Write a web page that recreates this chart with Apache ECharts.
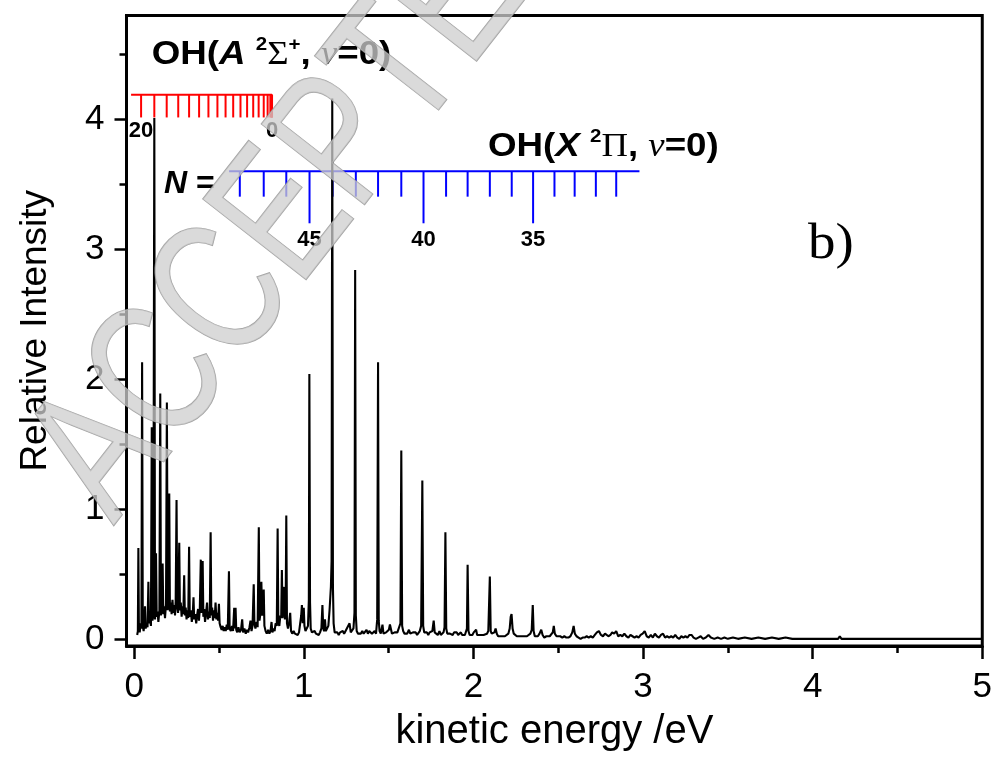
<!DOCTYPE html>
<html><head><meta charset="utf-8">
<script src="https://cdn.jsdelivr.net/npm/echarts@6/dist/echarts.min.js"></script>
<style>html,body{margin:0;padding:0;background:#fff}#c{width:995px;height:757px}</style>
</head><body><div id="c"></div>
<script>
// ---- data ----
const energy = [
0.018,0.022,0.025,0.028,0.033,0.038,0.043,0.047,0.051,0.056,
0.060,0.064,0.068,0.074,0.079,0.084,0.088,0.094,0.099,0.104,
0.108,0.113,0.119,0.123,0.129,0.133,0.138,0.143,0.149,0.154,
0.158,0.163,0.168,0.172,0.177,0.182,0.188,0.193,0.198,0.202,
0.207,0.211,0.216,0.221,0.226,0.231,0.236,0.241,0.245,0.250,
0.254,0.259,0.266,0.270,0.275,0.280,0.285,0.290,0.295,0.299,
0.304,0.309,0.315,0.319,0.324,0.328,0.334,0.340,0.346,0.350,
0.354,0.360,0.366,0.371,0.377,0.382,0.387,0.393,0.397,0.404,
0.408,0.413,0.418,0.424,0.430,0.435,0.440,0.446,0.451,0.455,
0.460,0.465,0.470,0.475,0.480,0.485,0.490,0.495,0.500,0.504,
0.510,0.516,0.522,0.528,0.534,0.540,0.546,0.552,0.559,0.563,
0.570,0.577,0.583,0.590,0.594,0.598,0.602,0.608,0.615,0.622,
0.630,0.637,0.642,0.650,0.658,0.665,0.672,0.680,0.686,0.692,
0.698,0.705,0.709,0.715,0.722,0.728,0.735,0.739,0.745,0.750,
0.755,0.760,0.764,0.768,0.775,0.782,0.790,0.797,0.804,0.810,
0.815,0.822,0.828,0.834,0.841,0.846,0.850,0.856,0.862,0.867,
0.871,0.875,0.880,0.885,0.889,0.893,0.897,0.901,0.907,0.913,
0.920,0.925,0.932,0.940,0.948,0.956,0.964,0.972,0.980,0.985,
0.989,0.994,1.000,1.004,1.010,1.018,1.025,1.030,1.033,1.037,
1.041,1.048,1.056,1.064,1.072,1.080,1.088,1.096,1.104,1.110,
1.115,1.120,1.125,1.130,1.137,1.145,1.152,1.160,1.164,1.168,
1.172,1.176,1.182,1.190,1.198,1.206,1.214,1.222,1.230,1.238,
1.246,1.254,1.262,1.270,1.277,1.285,1.293,1.299,1.303,1.307,
1.312,1.320,1.328,1.336,1.345,1.353,1.362,1.370,1.378,1.386,
1.394,1.402,1.410,1.418,1.426,1.433,1.438,1.442,1.447,1.454,
1.464,1.470,1.478,1.486,1.494,1.502,1.508,1.514,1.520,1.528,
1.536,1.544,1.552,1.560,1.570,1.575,1.580,1.586,1.594,1.602,
1.610,1.620,1.628,1.636,1.644,1.652,1.660,1.668,1.676,1.684,
1.692,1.699,1.704,1.710,1.718,1.726,1.734,1.742,1.750,1.758,
1.766,1.772,1.780,1.790,1.800,1.808,1.816,1.824,1.830,1.835,
1.840,1.846,1.854,1.862,1.870,1.878,1.886,1.894,1.902,1.910,
1.918,1.926,1.934,1.942,1.950,1.957,1.962,1.966,1.971,1.978,
1.986,1.994,2.002,2.010,2.016,2.022,2.030,2.040,2.050,2.060,
2.070,2.080,2.088,2.093,2.097,2.102,2.108,2.116,2.124,2.131,
2.138,2.146,2.156,2.166,2.176,2.186,2.196,2.206,2.214,2.220,
2.225,2.231,2.238,2.246,2.256,2.266,2.276,2.286,2.296,2.306,
2.316,2.326,2.336,2.344,2.350,2.355,2.362,2.370,2.380,2.390,
2.400,2.408,2.418,2.430,2.440,2.450,2.460,2.468,2.474,2.480,
2.490,2.500,2.512,2.524,2.536,2.548,2.560,2.572,2.583,2.591,
2.598,2.608,2.620,2.632,2.644,2.656,2.668,2.680,2.692,2.704,
2.716,2.728,2.740,2.752,2.764,2.776,2.786,2.796,2.808,2.818,
2.830,2.842,2.854,2.866,2.878,2.890,2.902,2.914,2.926,2.938,
2.950,2.962,2.974,2.986,2.998,3.010,3.022,3.034,3.046,3.058,
3.070,3.082,3.094,3.106,3.118,3.130,3.142,3.154,3.166,3.178,
3.190,3.202,3.214,3.226,3.238,3.250,3.262,3.274,3.286,3.298,
3.312,3.326,3.340,3.354,3.370,3.386,3.400,3.420,3.440,3.460,
3.480,3.500,3.530,3.560,3.600,3.640,3.680,3.720,3.760,3.800,
3.840,3.880,3.950,4.050,4.150,4.160,4.170,4.300,4.500,4.700,
5.000];
const intensity = [
0.03,0.06,0.70,0.10,0.05,0.12,0.08,2.13,0.10,0.06,
0.12,0.25,0.08,0.12,0.09,0.44,0.12,0.15,0.10,1.63,
0.14,0.18,4.01,0.15,0.66,0.17,0.21,0.13,0.22,1.89,
0.18,0.24,0.58,0.19,0.25,0.16,0.27,1.82,0.22,0.30,
1.12,0.21,0.28,0.19,0.30,0.20,0.26,0.18,0.29,1.07,
0.24,0.20,0.74,0.22,0.28,0.17,0.25,0.19,0.49,0.18,
0.24,0.15,0.22,0.16,0.71,0.17,0.22,0.13,0.20,0.32,
0.15,0.19,0.12,0.18,0.23,0.14,0.22,0.61,0.20,0.60,
0.17,0.23,0.13,0.20,0.28,0.15,0.21,0.16,0.82,0.18,
0.24,0.14,0.22,0.16,0.28,0.15,0.20,0.14,0.27,0.12,
0.09,0.07,0.10,0.06,0.09,0.06,0.11,0.07,0.52,0.08,
0.06,0.10,0.06,0.24,0.08,0.24,0.07,0.05,0.09,0.05,
0.07,0.15,0.05,0.08,0.04,0.07,0.05,0.09,0.14,0.06,
0.10,0.42,0.12,0.08,0.13,0.09,0.86,0.14,0.20,0.44,
0.18,0.22,0.38,0.10,0.06,0.04,0.07,0.04,0.06,0.13,
0.05,0.08,0.06,0.12,0.10,0.85,0.13,0.10,0.18,0.16,
0.53,0.16,0.22,0.40,0.15,0.18,0.95,0.12,0.08,0.12,
0.20,0.06,0.04,0.06,0.04,0.05,0.03,0.05,0.06,0.18,
0.26,0.12,0.24,0.10,0.06,0.05,0.10,0.30,2.04,0.28,
0.08,0.05,0.04,0.06,0.04,0.05,0.03,0.05,0.08,0.26,
0.08,0.06,0.15,0.06,0.05,0.10,0.22,0.40,0.60,4.16,
0.40,0.12,0.05,0.04,0.05,0.03,0.05,0.04,0.06,0.04,
0.05,0.08,0.07,0.12,0.05,0.06,0.08,0.20,2.84,0.18,
0.06,0.04,0.05,0.04,0.06,0.04,0.05,0.07,0.04,0.06,
0.05,0.04,0.05,0.06,0.04,0.15,2.13,0.14,0.06,0.04,
0.11,0.04,0.03,0.05,0.04,0.07,0.11,0.10,0.04,0.03,
0.05,0.04,0.05,0.06,0.12,1.45,0.10,0.06,0.04,0.05,
0.04,0.07,0.04,0.03,0.05,0.04,0.05,0.03,0.04,0.06,
0.10,1.22,0.10,0.05,0.04,0.05,0.03,0.05,0.04,0.06,
0.14,0.05,0.04,0.03,0.06,0.03,0.04,0.05,0.09,0.82,
0.08,0.04,0.03,0.04,0.05,0.03,0.05,0.04,0.05,0.03,
0.04,0.05,0.03,0.04,0.03,0.04,0.08,0.57,0.06,0.03,
0.04,0.03,0.05,0.06,0.07,0.03,0.02,0.03,0.04,0.03,
0.02,0.04,0.06,0.07,0.48,0.06,0.04,0.03,0.05,0.08,
0.04,0.02,0.03,0.02,0.03,0.02,0.03,0.04,0.08,0.17,
0.19,0.08,0.04,0.03,0.02,0.03,0.02,0.03,0.02,0.03,
0.02,0.03,0.04,0.07,0.26,0.06,0.02,0.03,0.02,0.04,
0.07,0.03,0.01,0.02,0.01,0.02,0.02,0.05,0.10,0.04,
0.02,0.01,0.02,0.01,0.02,0.01,0.01,0.02,0.05,0.10,
0.04,0.02,0.01,0.00,0.01,0.01,0.02,0.01,0.02,0.01,
0.03,0.05,0.06,0.03,0.02,0.04,0.04,0.02,0.03,0.05,
0.04,0.06,0.02,0.03,0.02,0.04,0.02,0.01,0.03,0.02,
0.01,0.02,0.01,0.03,0.04,0.06,0.02,0.01,0.03,0.01,
0.04,0.02,0.01,0.03,0.04,0.01,0.02,0.01,0.02,0.01,
0.03,0.01,0.00,0.02,0.01,0.02,0.01,0.03,0.03,0.01,
0.00,0.01,0.02,0.00,0.01,0.03,0.01,0.00,0.01,0.00,
0.01,0.00,0.01,0.00,0.01,0.00,0.01,0.00,0.01,0.00,
0.01,0.00,0.00,0.00,0.00,0.02,0.00,0.00,0.00,0.00,
0.00];

// rotational comb of OH(A 2Σ+, v=0): N = 20 ... 0
const redCombN = [20,19,18,17,16,15,14,13,12,11,10,9,8,7,6,5,4,3,2,1,0];
const redCombE = [0.041,0.119,0.192,0.260,0.324,0.383,0.438,0.491,0.539,0.584,0.627,0.666,0.702,0.734,0.764,0.787,0.803,0.808,0.811,0.8125,0.813];
const redLabelN = [20, 0];
// rotational comb of OH(X 2Π, v=0): N = 48 ... 31
const blueCombN = [48,47,46,45,44,43,42,41,40,39,38,37,36,35,34,33,32,31];
const blueCombE = [0.623,0.764,0.897,1.034,1.170,1.307,1.438,1.575,1.706,1.839,1.966,2.097,2.226,2.352,2.478,2.597,2.722,2.842];
const blueLabelN = [45, 40, 35];

const xMajorTicks = [0,1,2,3,4,5];
const xMinorTicks = [0.5,1.5,2.5,3.5,4.5];
const yMajorTicks = [0,1,2,3,4];
const yMinorTicks = [0.5,1.5,2.5,3.5,4.5];

// ---- layout / style ----
const SANS = '"Liberation Sans", Arial, sans-serif';
const SERIF = '"Liberation Serif", "Times New Roman", serif';
const X_MIN = -0.045, X_MAX = 5.0, Y_MIN = -0.055, Y_MAX = 4.8;
const RED = { level: 4.19, bottom: 4.015, label: 3.91, start: -0.018, end: 0.813 };
const BLUE = { level: 3.60, shortBottom: 3.405, longBottom: 3.20, label: 3.07, start: 0.560, end: 2.979 };

const chart = echarts.init(document.getElementById('c'), null, { renderer: 'canvas' });

function combRender(cfg, color, labelList, hasLong) {
  return function (params, api) {
    const e = api.value(0), n = api.value(1);
    const isLabel = labelList.indexOf(n) >= 0;
    const bottom = hasLong ? (isLabel ? cfg.longBottom : cfg.shortBottom) : cfg.bottom;
    const p1 = api.coord([e, cfg.level]);
    const p2 = api.coord([e, bottom]);
    const children = [{
      type: 'line', shape: { x1: p1[0], y1: p1[1], x2: p2[0], y2: p2[1] },
      style: { stroke: color, lineWidth: 2 }
    }];
    if (isLabel) {
      const p3 = api.coord([e, cfg.label]);
      children.push({
        type: 'text', x: p3[0], y: p3[1],
        style: { text: String(n), align: 'center', verticalAlign: 'middle',
                 font: 'bold 22px ' + SANS, fill: '#000' }
      });
    }
    return { type: 'group', children };
  };
}

const axisLineStyle = { color: '#000', width: 3 };
const tickLineStyle = { color: '#000', width: 2.5 };

const option = {
  animation: false,
  backgroundColor: '#fff',
  grid: { left: 126.5, right: 9, top: 15.5, bottom: 110.3, show: true,
          borderColor: '#000', borderWidth: 3, containLabel: false },
  xAxis: [{
    type: 'value', min: X_MIN, max: X_MAX, position: 'bottom',
    axisLine: { show: true, onZero: false, lineStyle: axisLineStyle },
    axisTick: { show: true, inside: false, length: 13, lineStyle: tickLineStyle, customValues: xMajorTicks },
    axisLabel: { show: true, customValues: xMajorTicks, margin: 24, color: '#000',
                 fontSize: 35, fontFamily: SANS, formatter: v => String(v) },
    splitLine: { show: false },
    name: 'kinetic energy /eV', nameLocation: 'middle', nameGap: 66,
    nameTextStyle: { color: '#000', fontSize: 40, fontFamily: SANS }
  }, {
    type: 'value', min: X_MIN, max: X_MAX, position: 'bottom',
    axisLine: { show: false, onZero: false },
    axisTick: { show: true, inside: false, length: 7, lineStyle: tickLineStyle, customValues: xMinorTicks },
    axisLabel: { show: false }, splitLine: { show: false }
  }],
  yAxis: [{
    type: 'value', min: Y_MIN, max: Y_MAX, position: 'left',
    axisLine: { show: true, onZero: false, lineStyle: axisLineStyle },
    axisTick: { show: true, inside: false, length: 12, lineStyle: tickLineStyle, customValues: yMajorTicks },
    axisLabel: { show: true, customValues: yMajorTicks, margin: 22, color: '#000',
                 fontSize: 35, fontFamily: SANS, formatter: v => String(v) },
    splitLine: { show: false },
    name: 'Relative Intensity', nameLocation: 'middle', nameGap: 72, nameRotate: 90,
    nameTextStyle: { color: '#000', fontSize: 37, fontFamily: SANS }
  }, {
    type: 'value', min: Y_MIN, max: Y_MAX, position: 'left',
    axisLine: { show: false, onZero: false },
    axisTick: { show: true, inside: false, length: 7, lineStyle: tickLineStyle, customValues: yMinorTicks },
    axisLabel: { show: false }, splitLine: { show: false }
  }],
  series: [
    {
      name: 'OH(A) comb line', type: 'line', xAxisIndex: 0, yAxisIndex: 0,
      data: [[RED.start, RED.level], [RED.end, RED.level]],
      showSymbol: false, symbol: 'none', lineStyle: { color: '#ff0000', width: 2 }, z: 2, silent: true
    },
    {
      name: 'OH(A) N', type: 'custom', xAxisIndex: 0, yAxisIndex: 0,
      data: redCombE.map((e, i) => [e, redCombN[i]]),
      renderItem: combRender(RED, '#ff0000', redLabelN, false), z: 2, silent: true
    },
    {
      name: 'OH(X) comb line', type: 'line', xAxisIndex: 0, yAxisIndex: 0,
      data: [[BLUE.start, BLUE.level], [BLUE.end, BLUE.level]],
      showSymbol: false, symbol: 'none', lineStyle: { color: '#0000ff', width: 2 }, z: 2, silent: true
    },
    {
      name: 'OH(X) N', type: 'custom', xAxisIndex: 0, yAxisIndex: 0,
      data: blueCombE.map((e, i) => [e, blueCombN[i]]),
      renderItem: combRender(BLUE, '#0000ff', blueLabelN, true), z: 2, silent: true
    },
    {
      name: 'spectrum', type: 'line', xAxisIndex: 0, yAxisIndex: 0,
      data: energy.map((e, i) => [e, intensity[i]]),
      showSymbol: false, symbol: 'none', sampling: null,
      lineStyle: { color: '#000', width: 2.1 }, z: 3, silent: true
    }
  ],
  graphic: [
    {
      type: 'text', x: 151.7, y: 55, scaleX: 1.08, z: 50,
      style: {
        text: '{b|OH(}{bi|A}{b| }{s|2}{g|Σ}{s|+}{b|, }{v|v}{b|=0)}',
        verticalAlign: 'middle', align: 'left', fill: '#000',
        rich: {
          b: { fill: '#000', font: 'bold 34px ' + SANS, lineHeight: 40 },
          bi: { fill: '#000', font: 'italic bold 34px ' + SANS, lineHeight: 40 },
          s: { fill: '#000', font: 'bold 19px ' + SANS, lineHeight: 30, verticalAlign: 'top' },
          g: { fill: '#000', font: '34px ' + SERIF, lineHeight: 40 },
          v: { fill: '#000', font: 'italic 34px ' + SERIF, lineHeight: 40 }
        }
      }
    },
    {
      type: 'text', x: 488, y: 147, scaleX: 1.08, z: 50,
      style: {
        text: '{b|OH(}{bi|X}{b| }{s|2}{g|Π}{b|, }{v|v}{b|=0)}',
        verticalAlign: 'middle', align: 'left', fill: '#000',
        rich: {
          b: { fill: '#000', font: 'bold 34px ' + SANS, lineHeight: 40 },
          bi: { fill: '#000', font: 'italic bold 34px ' + SANS, lineHeight: 40 },
          s: { fill: '#000', font: 'bold 19px ' + SANS, lineHeight: 30, verticalAlign: 'top' },
          g: { fill: '#000', font: '34px ' + SERIF, lineHeight: 40 },
          v: { fill: '#000', font: 'italic 34px ' + SERIF, lineHeight: 40 }
        }
      }
    },
    {
      type: 'text', x: 164, y: 184, z: 50,
      style: {
        text: '{n|N}{e| =}', verticalAlign: 'middle', align: 'left', fill: '#000',
        rich: {
          n: { fill: '#000', font: 'italic bold 32px ' + SANS },
          e: { fill: '#000', font: 'bold 32px ' + SANS }
        }
      }
    },
    {
      type: 'text', x: 808, y: 245, scaleX: 1.1, z: 50,
      style: { text: 'b)', font: '50px ' + SERIF, fill: '#000', align: 'left', verticalAlign: 'middle' }
    },
    {
      type: 'text', x: 147, y: 552, rotation: 52 * Math.PI / 180, scaleX: 0.75, z: 60, silent: true,
      style: { text: 'ACCEPTED', font: '190px ' + SANS, fill: 'rgba(205,205,205,0.75)',
               stroke: 'rgba(140,140,140,0.8)', lineWidth: 1.5, align: 'left', verticalAlign: 'bottom' }
    }
  ]
};
chart.setOption(option);
</script>
</body></html>
